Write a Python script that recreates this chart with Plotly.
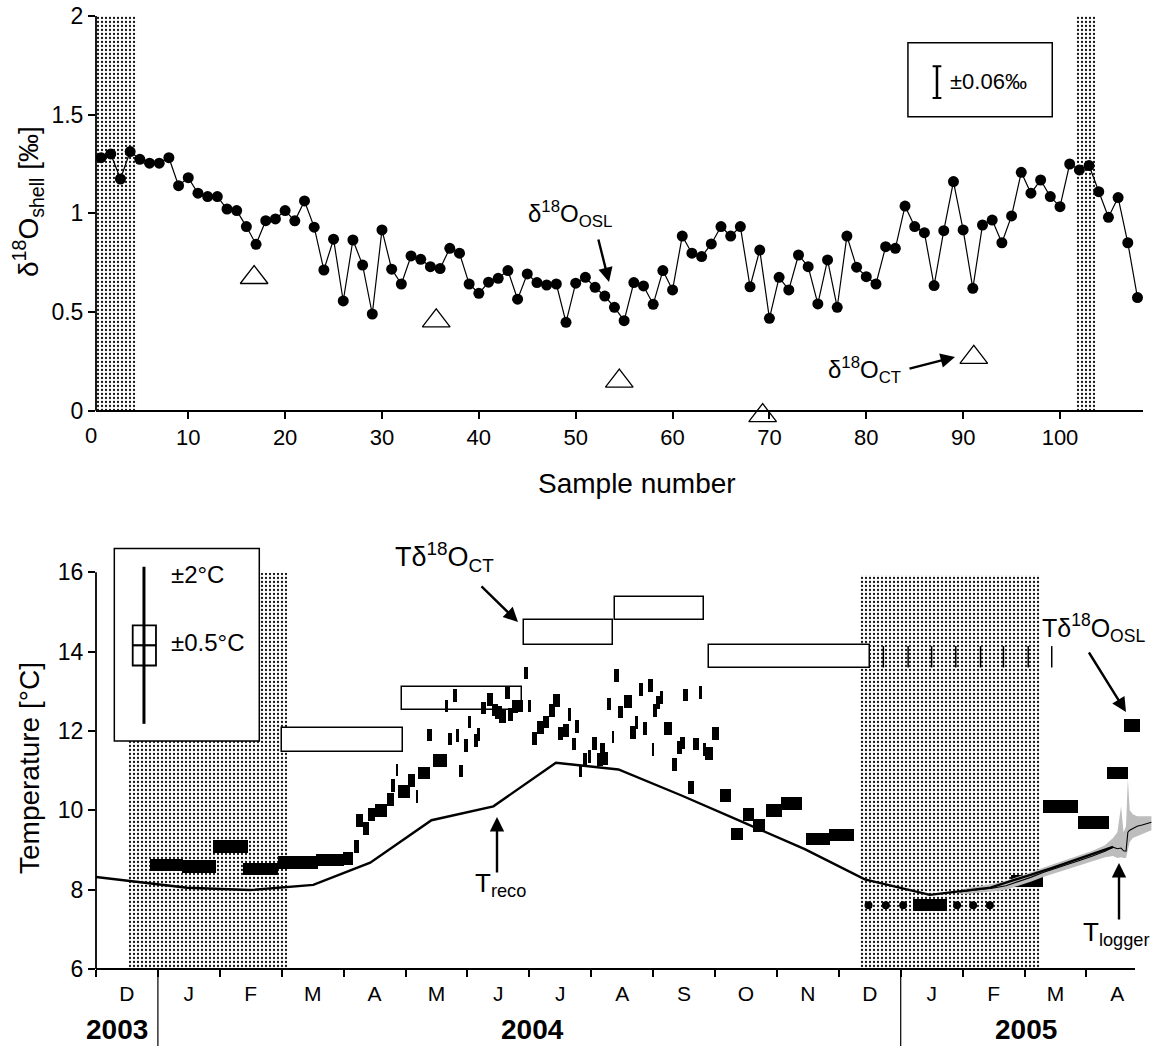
import plotly.graph_objects as go

W, H = 1156, 1048
FONT = "Arial, Liberation Sans, sans-serif"

# ------------------------------------------------------------------ top panel data
d18o_shell = [1.282, 1.301, 1.174, 1.313, 1.274, 1.254, 1.254, 1.282, 1.140, 1.181,
              1.102, 1.085, 1.085, 1.022, 1.014, 0.933, 0.843, 0.963, 0.972, 1.014,
              0.962, 1.063, 0.930, 0.713, 0.869, 0.556, 0.865, 0.738, 0.490, 0.916,
              0.717, 0.642, 0.784, 0.767, 0.730, 0.720, 0.823, 0.798, 0.642, 0.595,
              0.651, 0.671, 0.710, 0.565, 0.693, 0.649, 0.637, 0.642, 0.448, 0.646,
              0.676, 0.625, 0.581, 0.524, 0.456, 0.649, 0.632, 0.539, 0.710, 0.612,
              0.885, 0.798, 0.781, 0.845, 0.933, 0.885, 0.933, 0.628, 0.814, 0.468,
              0.676, 0.612, 0.789, 0.730, 0.541, 0.764, 0.524, 0.885, 0.727, 0.679,
              0.642, 0.831, 0.823, 1.037, 0.933, 0.902, 0.634, 0.912, 1.161, 0.916,
              0.620, 0.941, 0.966, 0.851, 0.987, 1.208, 1.102, 1.169, 1.085, 1.034,
              1.250, 1.220, 1.242, 1.110, 0.980, 1.080, 0.851, 0.573]
sample_no = list(range(1, len(d18o_shell) + 1))

ct_sample = [16.8, 35.6, 54.5, 69.3, 91.1]
ct_d18o = [0.675, 0.455, 0.150, -0.025, 0.270]

top_shade_start = [0.475, 101.55]
top_shade_end = [4.68, 103.6]

top_xticks = [10, 20, 30, 40, 50, 60, 70, 80, 90, 100]
top_yticks = [0, 0.5, 1, 1.5, 2]
top_yticktext = ["0", "0.5", "1", "1.5", "2"]

# ------------------------------------------------------------------ bottom panel data
# x unit = months since start of Dec 2003
month_labels = ["D", "J", "F", "M", "A", "M", "J", "J", "A", "S", "O", "N",
                "D", "J", "F", "M", "A"]
year_labels = ["2003", "2004", "2005"]
temp_ticks = [6, 8, 10, 12, 14, 16]

reco_x = [0.0, 1.47, 2.49, 3.51, 4.43, 5.42, 6.42, 7.43, 8.44, 9.45, 10.45,
          11.45, 12.42, 13.47, 14.45, 15.45, 16.43]
reco_T = [8.32, 8.05, 7.99, 8.12, 8.68, 9.75, 10.10, 11.20, 11.03, 10.38, 9.70,
          9.02, 8.26, 7.87, 8.05, 8.55, 9.08]

log_x = [13.95, 14.1, 14.3, 14.5, 14.7, 14.9, 15.1, 15.3, 15.5, 15.7, 15.9, 16.1,
         16.3, 16.43, 16.5, 16.56, 16.6, 16.64, 16.67, 16.7, 16.75, 16.82, 16.9,
         16.98, 17.05]
log_T = [7.94, 7.97, 8.00, 8.04, 8.10, 8.20, 8.31, 8.43, 8.53, 8.63, 8.74, 8.85,
         8.97, 9.07, 9.03, 9.05, 8.98, 8.97, 9.45, 9.50, 9.55, 9.60, 9.63, 9.66, 9.70]
log_hi = [7.98, 8.05, 8.10, 8.15, 8.22, 8.32, 8.43, 8.55, 8.66, 8.76, 8.86, 8.98,
          9.12, 9.30, 9.45, 10.10, 9.45, 9.60, 10.80, 10.00, 9.90, 9.85, 9.85,
          9.85, 9.85]
log_lo = [7.90, 7.90, 7.93, 7.96, 8.00, 8.10, 8.20, 8.32, 8.42, 8.52, 8.62, 8.72,
          8.82, 8.85, 8.80, 8.82, 8.80, 8.80, 9.00, 9.20, 9.30, 9.35, 9.40, 9.45,
          9.50]

osl_start = [0.877, 1.389, 1.885, 2.380, 2.935, 3.554, 3.985, 4.173, 4.200, 4.318,
             4.399, 4.507, 4.706, 4.766, 4.842, 4.874, 5.040, 5.170, 5.207, 5.439,
             5.342, 5.691, 5.816, 5.869, 5.945, 6.005, 6.111, 6.150, 5.638, 5.763,
             6.215, 6.312, 6.393, 6.446, 6.515, 6.607, 6.661, 6.716, 6.796, 6.914,
             6.984, 7.039, 7.129, 7.226, 7.323, 7.388, 7.459, 7.549, 7.630, 7.685,
             7.738, 7.808, 7.872, 7.953, 8.008, 8.099, 8.142, 8.195, 8.250, 8.331,
             8.373, 8.428, 8.530, 8.627, 8.708, 8.777, 8.832, 8.922, 8.977, 9.003,
             9.047, 9.111, 9.176, 9.301, 9.381, 9.435, 9.478, 9.569, 9.640, 9.746,
             9.801, 9.838, 9.947, 10.082, 10.254, 10.447, 10.619, 10.824, 11.066,
             11.470, 11.847, 13.194, 14.777, 15.294, 15.869, 16.328, 16.612]
osl_end = [1.410, 1.939, 2.451, 2.935, 3.582, 4.011, 4.157, 4.254, 4.318, 4.415,
           4.507, 4.706, 4.814, 4.830, 4.884, 5.073, 5.153, 5.207, 5.396, 5.675,
           5.423, 5.746, 5.869, 5.924, 6.015, 6.053, 6.166, 6.204, 5.682, 5.827,
           6.300, 6.409, 6.499, 6.554, 6.624, 6.688, 6.732, 6.822, 6.893, 6.984,
           7.027, 7.129, 7.237, 7.323, 7.420, 7.496, 7.549, 7.646, 7.674, 7.750,
           7.803, 7.851, 7.927, 7.992, 8.099, 8.186, 8.223, 8.276, 8.315, 8.373,
           8.449, 8.519, 8.654, 8.724, 8.761, 8.842, 8.897, 8.993, 9.019, 9.068,
           9.111, 9.165, 9.301, 9.391, 9.462, 9.515, 9.569, 9.661, 9.746, 9.790,
           9.855, 9.963, 10.069, 10.259, 10.457, 10.630, 10.808, 11.078, 11.410,
           11.858, 12.250, 13.743, 15.294, 15.869, 16.365, 16.667, 16.866]
osl_T = [8.62, 8.59, 9.09, 8.52, 8.69, 8.75, 8.79, 9.08, 9.75, 9.55,
         9.90, 9.99, 10.27, 10.62, 11.02, 10.47, 10.76, 10.34, 10.94, 11.25,
         11.90, 11.80, 11.89, 10.99, 11.63, 12.23, 11.76, 11.92, 12.63, 12.89,
         12.58, 12.80, 12.53, 12.47, 12.37, 12.96, 12.42, 12.61, 12.63, 13.46,
         12.63, 11.81, 12.08, 12.23, 12.52, 12.77, 11.94, 12.01, 12.42, 11.67,
         12.11, 10.99, 11.28, 11.35, 11.69, 11.28, 11.54, 11.30, 12.68, 11.85,
         13.39, 12.48, 12.74, 11.96, 12.21, 13.05, 12.07, 13.14, 11.54, 12.51,
         12.72, 12.85, 12.07, 11.16, 11.58, 11.70, 12.91, 10.57, 11.67, 12.97,
         11.54, 11.44, 11.93, 10.38, 9.40, 9.90, 9.62, 9.99, 10.18,
         9.28, 9.38, 7.61, 8.22, 10.09, 9.70, 10.94, 12.13]
OSL_THICK = 0.32

ct_start = [3.00, 4.95, 6.91, 8.39, 9.91]
ct_end = [4.96, 6.89, 8.36, 9.82, 12.51]
ct_low = [11.47, 12.53, 14.17, 14.80, 13.60]
ct_high = [12.08, 13.12, 14.80, 15.37, 14.17]
ct_cont_x = [12.72, 13.12, 13.50, 13.89, 14.29, 14.66, 15.06, 15.44]

dots_x = [12.48, 12.76, 13.04, 13.91, 14.17, 14.44]
dots_T = [7.61, 7.61, 7.61, 7.61, 7.61, 7.61]

bot_shade_start = [0.52, 12.33]
bot_shade_end = [3.09, 15.25]
bot_shade_top = [15.97, 15.93]

# ------------------------------------------------------------------ geometry (pixels)
T_X0, T_XS = 91.4, 9.686          # top: px = T_X0 + T_XS * sample
T_LEFT, T_RIGHT, T_AX, T_TOP = 96, 1143, 410.7, 16
T_YS = (T_AX - T_TOP) / 2.0
T_YMIN = -0.06
T_BOT = T_AX - T_YMIN * T_YS
B_LEFT, B_RIGHT, B_BOT, B_TOP = 96, 1152, 969, 540
B_XS, B_YS = 61.9, 39.67


def px(x):
    return x / W


def py(y):
    return 1 - y / H


def bx(m):
    return B_LEFT + B_XS * m


def by(t):
    return B_BOT - B_YS * (t - 6)


fig = go.Figure()
stipple = dict(shape=".", fgcolor="#111111", bgcolor="white", size=4, solidity=0.25)

# ---------------- top traces
fig.add_trace(go.Bar(
    x=[(s + e) / 2 for s, e in zip(top_shade_start, top_shade_end)],
    width=[e - s for s, e in zip(top_shade_start, top_shade_end)],
    y=[2, 2], base=[0, 0], xaxis="x", yaxis="y",
    marker=dict(color="white", line=dict(width=0), pattern=stipple),
    hoverinfo="skip"))
fig.add_trace(go.Scatter(
    x=sample_no, y=d18o_shell, mode="lines+markers", xaxis="x", yaxis="y",
    line=dict(color="black", width=1.2),
    marker=dict(color="black", size=11)))
fig.add_trace(go.Scatter(
    x=ct_sample, y=ct_d18o, mode="markers", xaxis="x", yaxis="y", cliponaxis=False,
    marker=dict(symbol="triangle-up-open", size=24, color="black",
                line=dict(width=1.3, color="black"))))

# ---------------- bottom traces
fig.add_trace(go.Bar(
    x=[(s + e) / 2 for s, e in zip(bot_shade_start, bot_shade_end)],
    width=[e - s for s, e in zip(bot_shade_start, bot_shade_end)],
    y=[t - 6 for t in bot_shade_top], base=[6, 6], xaxis="x2", yaxis="y2",
    marker=dict(color="white", line=dict(width=0), pattern=stipple),
    hoverinfo="skip"))
fig.add_trace(go.Bar(
    x=[(s + e) / 2 for s, e in zip(ct_start, ct_end)],
    width=[e - s for s, e in zip(ct_start, ct_end)],
    y=[h - l for l, h in zip(ct_low, ct_high)], base=ct_low, xaxis="x2", yaxis="y2",
    marker=dict(color="white", line=dict(color="black", width=1.5))))
fig.add_trace(go.Bar(
    x=[(s + e) / 2 for s, e in zip(osl_start, osl_end)],
    width=[e - s for s, e in zip(osl_start, osl_end)],
    y=[OSL_THICK] * len(osl_T), base=[t - OSL_THICK / 2 for t in osl_T],
    xaxis="x2", yaxis="y2",
    marker=dict(color="black", line=dict(width=0))))

fig.add_trace(go.Scatter(
    x=log_x + log_x[::-1], y=log_hi + log_lo[::-1], xaxis="x2", yaxis="y2",
    mode="lines", fill="toself", fillcolor="#bdbdbd", line=dict(width=0),
    hoverinfo="skip"))
fig.add_trace(go.Scatter(
    x=reco_x, y=reco_T, mode="lines", xaxis="x2", yaxis="y2",
    line=dict(color="black", width=2.4)))
fig.add_trace(go.Scatter(
    x=log_x, y=log_T, mode="lines", xaxis="x2", yaxis="y2",
    line=dict(color="black", width=1.1)))

cx, cy = [], []
for x in ct_cont_x:
    cx += [x, x, None]
    cy += [ct_low[-1], ct_high[-1] - 0.03, None]
fig.add_trace(go.Scatter(x=cx, y=cy, mode="lines", xaxis="x2", yaxis="y2",
                         line=dict(color="black", width=1.5)))
fig.add_trace(go.Scatter(x=dots_x, y=dots_T, mode="markers", xaxis="x2", yaxis="y2",
                         marker=dict(color="black", size=8)))

# ---------------- axes
axis_common = dict(showgrid=False, zeroline=False, color="black", automargin=False,
                   tickcolor="black", tickwidth=1.5, ticklen=7)
fig.update_layout(
    template="none",
    width=W, height=H, autosize=False, margin=dict(l=0, r=0, t=0, b=0, pad=0),
    paper_bgcolor="white", plot_bgcolor="rgba(0,0,0,0)", showlegend=False,
    barmode="overlay", bargap=0, hovermode=False,
    font=dict(family=FONT, color="black", size=22),
    xaxis=dict(domain=[px(T_LEFT), px(T_RIGHT)],
               range=[(T_LEFT - T_X0) / T_XS, (T_RIGHT - T_X0) / T_XS],
               anchor="free", position=py(T_AX),
               showline=True, linecolor="black", linewidth=1.8, ticks="outside",
               tickvals=top_xticks, tickfont=dict(size=22),
               **axis_common),
    yaxis=dict(domain=[py(T_BOT), py(T_TOP)], range=[T_YMIN, 2],
               showline=False, ticks="outside",
               tickvals=top_yticks, ticktext=top_yticktext, tickfont=dict(size=23),
               anchor="x", **axis_common),
    xaxis2=dict(domain=[px(B_LEFT), px(B_RIGHT)],
                range=[0, (B_RIGHT - B_LEFT) / B_XS],
                showline=False, ticks="", ticklabelstandoff=10,
                tickvals=[i + 0.5 for i in range(len(month_labels))],
                ticktext=month_labels, tickfont=dict(size=21), anchor="y2",
                minor=dict(tickvals=list(range(0, len(month_labels))), ticks="outside",
                           ticklen=7, tickwidth=1.5, tickcolor="black", showgrid=False),
                showgrid=False, zeroline=False, color="black", automargin=False),
    yaxis2=dict(domain=[py(B_BOT), py(B_TOP)],
                range=[6, 6 + (B_BOT - B_TOP) / B_YS],
                showline=False, ticks="outside", tickvals=temp_ticks,
                tickfont=dict(size=23), anchor="x2", **axis_common),
)

# ---------------- shapes
shapes = []
# top y axis line (0..2)
shapes.append(dict(type="line", xref="paper", yref="paper", x0=px(T_LEFT), x1=px(T_LEFT),
                   y0=py(T_AX), y1=py(T_TOP), line=dict(color="black", width=1.8)))
# bottom axis lines (stop at 16 degC / end of April)
shapes.append(dict(type="line", xref="paper", yref="paper", x0=px(B_LEFT), x1=px(1135),
                   y0=py(B_BOT), y1=py(B_BOT), line=dict(color="black", width=1.8)))
shapes.append(dict(type="line", xref="paper", yref="paper", x0=px(B_LEFT), x1=px(B_LEFT),
                   y0=py(B_BOT), y1=py(by(16)), line=dict(color="black", width=1.8)))
# year dividers
for m in (1, 13):
    shapes.append(dict(type="line", xref="paper", yref="paper", x0=px(bx(m)), x1=px(bx(m)),
                       y0=py(B_BOT), y1=py(1046), line=dict(color="black", width=1.2)))
# top precision legend
shapes.append(dict(type="rect", xref="x", yref="y", x0=84.3, x1=99.2, y0=1.489, y1=1.864,
                   line=dict(color="black", width=1.5), fillcolor="white", layer="above"))
shapes.append(dict(type="line", xref="x", yref="y", x0=87.3, x1=87.3, y0=1.585, y1=1.745,
                   line=dict(color="black", width=2.5), layer="above"))
for yy in (1.585, 1.745):
    shapes.append(dict(type="line", xref="x", yref="y", x0=86.85, x1=87.75, y0=yy, y1=yy,
                       line=dict(color="black", width=2), layer="above"))
# bottom precision legend
shapes.append(dict(type="rect", xref="x2", yref="y2", x0=0.296, x1=2.638, y0=11.75, y1=16.6,
                   line=dict(color="black", width=1.5), fillcolor="white", layer="above"))
shapes.append(dict(type="line", xref="x2", yref="y2", x0=0.775, x1=0.775, y0=12.18, y1=16.14,
                   line=dict(color="black", width=3), layer="above"))
shapes.append(dict(type="rect", xref="x2", yref="y2", x0=0.593, x1=0.969, y0=13.65, y1=14.66,
                   line=dict(color="black", width=1.8), layer="above"))
shapes.append(dict(type="line", xref="x2", yref="y2", x0=0.593, x1=0.969, y0=14.16, y1=14.16,
                   line=dict(color="black", width=2.2), layer="above"))
fig.update_layout(shapes=shapes)

# ---------------- annotations
ann = []


def text(x, y, s, size=24, xanchor="center", yanchor="middle", angle=0, bold=False):
    if bold:
        s = "<b>" + s + "</b>"
    ann.append(dict(x=px(x), y=py(y), xref="paper", yref="paper", text=s,
                    showarrow=False, xanchor=xanchor, yanchor=yanchor, textangle=angle,
                    font=dict(family=FONT, size=size, color="black")))


def arrow(tipx, tipy, tailx, taily):
    ann.append(dict(x=px(tipx), y=py(tipy), xref="paper", yref="paper", text="",
                    showarrow=True, ax=tailx - tipx, ay=taily - tipy,
                    arrowhead=2, arrowsize=1.2, arrowwidth=2.4, arrowcolor="black",
                    standoff=0, startstandoff=0))


text(28, 202, "δ<sup>18</sup>O<sub>shell</sub> [‰]", size=28, angle=-90)
text(637, 483, "Sample number", size=28)
text(T_X0, 421, "0", size=22, yanchor="top")
text(948, 82, "±0.06‰", size=22, xanchor="left")
text(570, 214, "δ<sup>18</sup>O<sub>OSL</sub>", size=24)
arrow(609, 282, 598, 238)
text(864, 370, "δ<sup>18</sup>O<sub>CT</sub>", size=24)
arrow(955, 357, 908, 369)

text(29, 768, "Temperature [°C]", size=28, angle=-90)
text(169, 574, "±2°C", size=24, xanchor="left")
text(169, 642, "±0.5°C", size=24, xanchor="left")
text(444, 557, "Tδ<sup>18</sup>O<sub>CT</sub>", size=27)
arrow(518, 622, 480, 585)
text(500, 884, "T<sub>reco</sub>", size=26)
arrow(497, 817, 497, 874)
text(1093, 628, "Tδ<sup>18</sup>O<sub>OSL</sub>", size=25)
arrow(1126, 712, 1088, 651)
text(1116, 933, "T<sub>logger</sub>", size=26)
arrow(1119, 863, 1119, 921)

for lbl, xc in zip(year_labels, (117, 532, 1026)):
    text(xc, 1029, lbl, size=28, bold=True)

fig.update_layout(annotations=ann)
fig.write_html("out.html")
